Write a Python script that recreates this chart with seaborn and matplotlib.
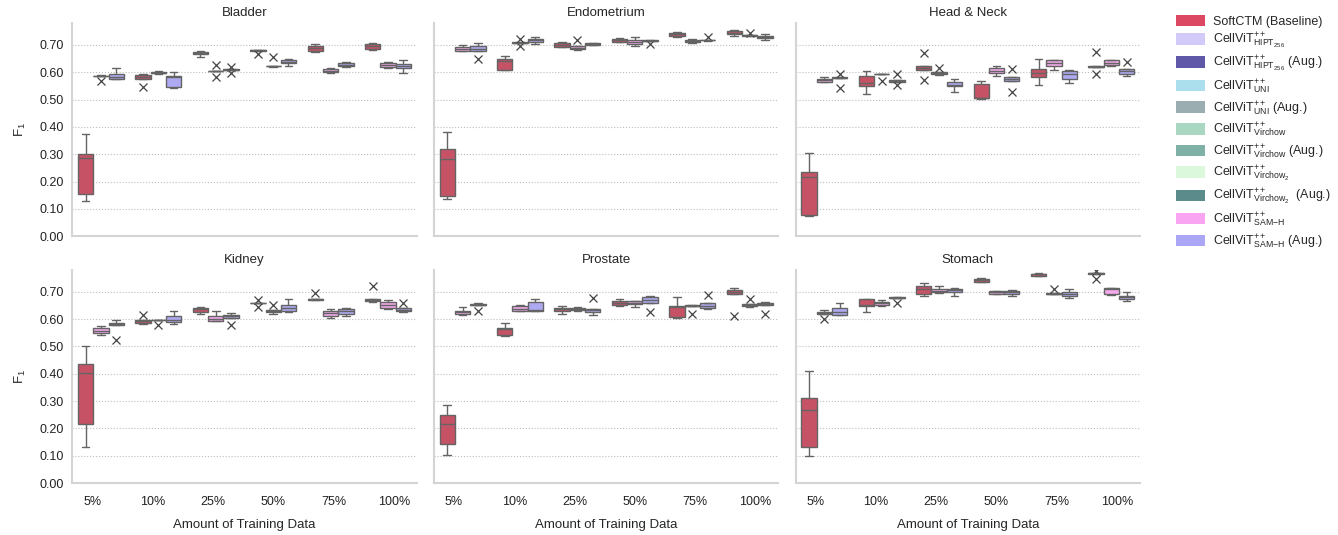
import numpy as np
import pandas as pd
import matplotlib
matplotlib.use('Agg')
import matplotlib.pyplot as plt
from matplotlib.patches import Patch
import seaborn as sns

amounts = ['5%', '10%', '25%', '50%', '75%', '100%']
tissues = ['Bladder', 'Endometrium', 'Head & Neck', 'Kidney', 'Prostate', 'Stomach']
models = ['SoftCTM (Baseline)', 'CellViT SAM-H', 'CellViT SAM-H (Aug.)']

# five folds per box, one row per amount of training data
bladder_softctm = [[0.130, 0.154, 0.288, 0.300, 0.373], [0.547, 0.575, 0.582, 0.590, 0.593],
                   [0.655, 0.666, 0.671, 0.675, 0.678], [0.668, 0.679, 0.680, 0.681, 0.682],
                   [0.674, 0.679, 0.687, 0.697, 0.702], [0.683, 0.686, 0.695, 0.703, 0.706]]
bladder_samh = [[0.567, 0.585, 0.587, 0.588, 0.589], [0.594, 0.596, 0.598, 0.600, 0.603],
                [0.583, 0.604, 0.605, 0.606, 0.626], [0.620, 0.621, 0.622, 0.623, 0.654],
                [0.598, 0.600, 0.606, 0.610, 0.617], [0.614, 0.618, 0.625, 0.632, 0.636]]
bladder_samh_aug = [[0.575, 0.577, 0.583, 0.592, 0.614], [0.543, 0.545, 0.583, 0.587, 0.602],
                    [0.596, 0.608, 0.609, 0.610, 0.620], [0.621, 0.633, 0.639, 0.645, 0.647],
                    [0.619, 0.621, 0.628, 0.634, 0.637], [0.598, 0.614, 0.622, 0.630, 0.643]]

endometrium_softctm = [[0.136, 0.148, 0.284, 0.320, 0.380], [0.607, 0.609, 0.640, 0.649, 0.661],
                       [0.692, 0.694, 0.701, 0.707, 0.709], [0.710, 0.712, 0.718, 0.723, 0.726],
                       [0.728, 0.733, 0.738, 0.743, 0.747], [0.733, 0.740, 0.745, 0.749, 0.754]]
endometrium_samh = [[0.677, 0.679, 0.685, 0.692, 0.699], [0.697, 0.707, 0.708, 0.709, 0.723],
                    [0.683, 0.685, 0.690, 0.697, 0.718], [0.695, 0.704, 0.711, 0.718, 0.727],
                    [0.707, 0.709, 0.714, 0.719, 0.722], [0.733, 0.734, 0.735, 0.736, 0.743]]
endometrium_samh_aug = [[0.648, 0.679, 0.685, 0.697, 0.707], [0.703, 0.712, 0.717, 0.722, 0.729],
                        [0.699, 0.701, 0.703, 0.706, 0.708], [0.702, 0.714, 0.715, 0.717, 0.719],
                        [0.716, 0.717, 0.718, 0.719, 0.730], [0.717, 0.725, 0.729, 0.733, 0.741]]

headneck_softctm = [[0.076, 0.079, 0.217, 0.234, 0.306], [0.519, 0.548, 0.559, 0.586, 0.604],
                    [0.571, 0.607, 0.614, 0.622, 0.669], [0.503, 0.504, 0.506, 0.556, 0.567],
                    [0.553, 0.582, 0.599, 0.611, 0.650], [0.592, 0.619, 0.620, 0.621, 0.674]]
headneck_samh = [[0.564, 0.566, 0.571, 0.577, 0.583], [0.568, 0.592, 0.593, 0.594, 0.595],
                 [0.591, 0.594, 0.597, 0.600, 0.617], [0.587, 0.597, 0.605, 0.614, 0.622],
                 [0.609, 0.621, 0.634, 0.643, 0.646], [0.622, 0.628, 0.635, 0.643, 0.646]]
headneck_samh_aug = [[0.544, 0.579, 0.580, 0.581, 0.592], [0.553, 0.566, 0.569, 0.572, 0.592],
                     [0.527, 0.548, 0.555, 0.565, 0.575], [0.526, 0.567, 0.575, 0.582, 0.610],
                     [0.559, 0.576, 0.595, 0.606, 0.609], [0.588, 0.595, 0.603, 0.610, 0.638]]

kidney_softctm = [[0.131, 0.217, 0.403, 0.436, 0.501], [0.580, 0.587, 0.592, 0.596, 0.615],
                  [0.619, 0.627, 0.635, 0.640, 0.645], [0.645, 0.658, 0.659, 0.660, 0.669],
                  [0.670, 0.671, 0.672, 0.673, 0.695], [0.663, 0.666, 0.670, 0.673, 0.719]]
kidney_samh = [[0.540, 0.550, 0.558, 0.566, 0.574], [0.578, 0.595, 0.596, 0.597, 0.598],
               [0.591, 0.593, 0.601, 0.610, 0.631], [0.619, 0.627, 0.631, 0.634, 0.653],
               [0.604, 0.612, 0.622, 0.630, 0.637], [0.637, 0.640, 0.651, 0.661, 0.669]]
kidney_samh_aug = [[0.523, 0.577, 0.581, 0.585, 0.597], [0.580, 0.588, 0.595, 0.610, 0.628],
                   [0.579, 0.605, 0.610, 0.615, 0.622], [0.625, 0.630, 0.641, 0.652, 0.674],
                   [0.611, 0.620, 0.628, 0.636, 0.639], [0.627, 0.629, 0.634, 0.640, 0.657]]

prostate_softctm = [[0.101, 0.143, 0.216, 0.248, 0.284], [0.539, 0.541, 0.563, 0.567, 0.584],
                    [0.620, 0.629, 0.636, 0.642, 0.647], [0.649, 0.651, 0.659, 0.667, 0.674],
                    [0.602, 0.607, 0.645, 0.649, 0.680], [0.611, 0.693, 0.700, 0.707, 0.714]]
prostate_samh = [[0.613, 0.620, 0.625, 0.630, 0.645], [0.628, 0.630, 0.638, 0.646, 0.653],
                 [0.629, 0.632, 0.636, 0.640, 0.644], [0.645, 0.654, 0.659, 0.665, 0.667],
                 [0.617, 0.648, 0.649, 0.650, 0.651], [0.644, 0.646, 0.650, 0.655, 0.672]]
prostate_samh_aug = [[0.628, 0.650, 0.653, 0.656, 0.658], [0.628, 0.630, 0.633, 0.662, 0.672],
                     [0.614, 0.627, 0.632, 0.637, 0.678], [0.625, 0.660, 0.670, 0.679, 0.684],
                     [0.637, 0.640, 0.649, 0.658, 0.689], [0.620, 0.651, 0.655, 0.660, 0.664]]

stomach_softctm = [[0.100, 0.132, 0.266, 0.311, 0.409], [0.625, 0.646, 0.653, 0.673, 0.675],
                   [0.686, 0.693, 0.710, 0.719, 0.730], [0.735, 0.737, 0.742, 0.747, 0.750],
                   [0.756, 0.758, 0.763, 0.766, 0.769], [0.748, 0.765, 0.767, 0.768, 0.775]]
stomach_samh = [[0.600, 0.619, 0.623, 0.627, 0.632], [0.648, 0.651, 0.659, 0.664, 0.671],
                [0.695, 0.697, 0.703, 0.709, 0.720], [0.691, 0.693, 0.697, 0.701, 0.703],
                [0.690, 0.691, 0.692, 0.694, 0.711], [0.689, 0.691, 0.709, 0.712, 0.715]]
stomach_samh_aug = [[0.613, 0.615, 0.627, 0.640, 0.657], [0.658, 0.676, 0.677, 0.679, 0.680],
                    [0.684, 0.699, 0.705, 0.711, 0.714], [0.686, 0.693, 0.698, 0.704, 0.706],
                    [0.678, 0.685, 0.691, 0.697, 0.708], [0.665, 0.675, 0.680, 0.685, 0.698]]

tissue_data = {
    'Bladder': [bladder_softctm, bladder_samh, bladder_samh_aug],
    'Endometrium': [endometrium_softctm, endometrium_samh, endometrium_samh_aug],
    'Head & Neck': [headneck_softctm, headneck_samh, headneck_samh_aug],
    'Kidney': [kidney_softctm, kidney_samh, kidney_samh_aug],
    'Prostate': [prostate_softctm, prostate_samh, prostate_samh_aug],
    'Stomach': [stomach_softctm, stomach_samh, stomach_samh_aug],
}

legend_labels = [
    'SoftCTM (Baseline)',
    r'CellViT$^{++}_{\mathrm{HIPT}_{256}}$',
    r'CellViT$^{++}_{\mathrm{HIPT}_{256}}$ (Aug.)',
    r'CellViT$^{++}_{\mathrm{UNI}}$',
    r'CellViT$^{++}_{\mathrm{UNI}}$ (Aug.)',
    r'CellViT$^{++}_{\mathrm{Virchow}}$',
    r'CellViT$^{++}_{\mathrm{Virchow}}$ (Aug.)',
    r'CellViT$^{++}_{\mathrm{Virchow}_2}$',
    r'CellViT$^{++}_{\mathrm{Virchow}_2}$  (Aug.)',
    r'CellViT$^{++}_{\mathrm{SAM}\mathrm{-H}}$',
    r'CellViT$^{++}_{\mathrm{SAM}\mathrm{-H}}$ (Aug.)',
]
legend_colors = ['#dc4862', '#d2cbf9', '#5f58a9', '#acdfee', '#9aaeb1', '#a9d7c1',
                 '#80b1a6', '#dbf8dc', '#5c8b8c', '#faa5f1', '#aba7f6']
box_colors = ['#c65266', '#f5aaee', '#aeaaf2']

rows = []
for tissue in tissues:
    for model, series in zip(models, tissue_data[tissue]):
        for amount, folds in zip(amounts, series):
            for v in folds:
                rows.append((tissue, model, amount, v))
df = pd.DataFrame(rows, columns=['tissue', 'model', 'amount', 'f1'])

sns.set_style('white')
plt.rcParams['font.family'] = ['Liberation Sans', 'DejaVu Sans']
plt.rcParams['mathtext.fontset'] = 'custom'
plt.rcParams['mathtext.rm'] = 'Liberation Sans'
plt.rcParams['mathtext.it'] = 'Liberation Sans:italic'

fig, axes = plt.subplots(2, 3, figsize=(13.38, 5.35), dpi=100, sharey=True)
fig.subplots_adjust(left=0.054, right=0.852, top=0.957, bottom=0.097,
                    wspace=0.05, hspace=0.157)

for ax, tissue in zip(axes.flat, tissues):
    sub = df[df['tissue'] == tissue]
    sns.boxplot(data=sub, x='amount', y='f1', hue='model', order=amounts,
                hue_order=models, palette=box_colors, saturation=1, width=0.8,
                linecolor='#646464', linewidth=1, legend=False, ax=ax,
                flierprops=dict(marker='x', markeredgecolor='#444444',
                                markersize=6, markeredgewidth=0.9))
    ax.set_ylim(0, 0.78)
    ax.set_xlim(-0.5, 5.5)
    # tick labels sit slightly wider apart than the box groups
    ax.set_xticks(np.linspace(-0.15, 5.1, len(amounts)))
    ax.set_xticklabels(amounts)
    ax.set_yticks(np.arange(0, 0.71, 0.1))
    ax.set_yticklabels([f'{t:.2f}' for t in np.arange(0, 0.71, 0.1)])
    ax.yaxis.grid(True, linestyle=':', color='#bdbdbd', linewidth=0.8)
    ax.set_axisbelow(True)
    for s in ['top', 'right']:
        ax.spines[s].set_visible(False)
    for s in ['left', 'bottom']:
        ax.spines[s].set_color('#d4d4d4')
        ax.spines[s].set_linewidth(1.5)
    ax.tick_params(length=0, labelsize=9, colors='#222222')
    ax.tick_params(axis='x', pad=9.5)
    ax.tick_params(axis='y', pad=6)
    ax.set_title(tissue, fontsize=9.5, pad=5)
    ax.set_xlabel('')
    ax.set_ylabel('')

for ax in axes[0]:
    ax.tick_params(labelbottom=False)
for ax in axes[1]:
    ax.set_xlabel('Amount of Training Data', fontsize=9.5, labelpad=8)
for ax in axes[:, 0]:
    ax.set_ylabel(r'F$_1$', fontsize=9.5, labelpad=8)

handles = [Patch(facecolor=c, edgecolor='none') for c in legend_colors]
fig.legend(handles, legend_labels, loc='upper left', bbox_to_anchor=(0.875, 0.982),
           frameon=False, fontsize=9, handlelength=2.3, handleheight=1.05,
           labelspacing=0.25, handletextpad=0.7, borderaxespad=0)

plt.savefig('out.png', dpi=100)
